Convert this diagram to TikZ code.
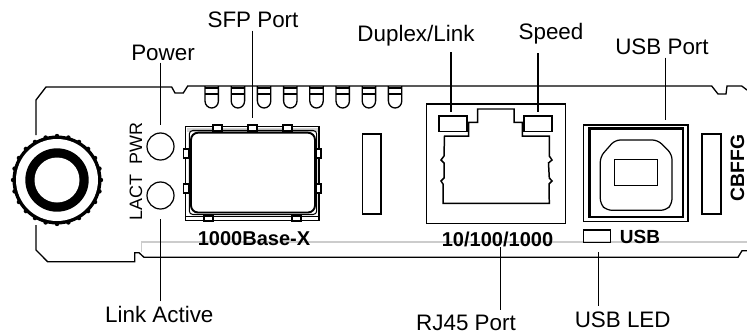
\documentclass[tikz,border=0pt]{standalone}
\usepackage{fontspec}
\setmainfont{Liberation Sans}
\begin{document}
\begin{tikzpicture}[x=0.02cm, y=-0.02cm,
    panel/.style={line width=0.75pt},
    leader/.style={line width=0.7pt},
    portbox/.style={draw, line width=0.7pt, inner sep=0pt, outer sep=0pt},
    callout/.style={anchor=base, inner sep=0pt, font=\fontsize{12.75}{14}\selectfont},
    silk/.style={inner sep=0pt, font=\fontsize{11.4}{13}\selectfont\bfseries}]
    \useasboundingbox (0,0) rectangle (747,335);

    % Panel outline
    \draw[panel] (36,135) -- (36,100) -- (46,87) -- (171.7,87) -- (175,93) -- (183.3,93) -- (187.7,86)
        -- (711.7,86) -- (718,94) -- (726,94) -- (727,86) -- (741.7,86) -- (747,90);
    \draw[panel] (36,225) -- (36,250) -- (47.6,261.7) -- (134.7,261.7) -- (134.7,252.7) -- (139,252.7)
        -- (144,257.3) -- (738,257.3) -- (742,250.7) -- (747,250.7);
    \draw[gray!40, line width=0.7pt] (141.7,252) -- (141.7,242) -- (747,242);

    % Latches along the top edge
    \foreach \x in {205,231.2,...,389} {
        \draw[panel] (\x,86) -- (\x,101) arc[start angle=180, end angle=0, x radius=6.7, y radius=7] -- (\x+13.4,86);
        \draw[line width=0.6pt] (\x,88) -- (\x+13.4,88) (\x,94) -- (\x+13.4,94);
    }

    % Thumb screw
    \foreach \a in {0,15,...,345} \fill (57,180) ++(\a:44) circle[radius=2.2];
    \fill (57,180) circle[radius=44.5];
    \fill[white] (57,180) circle[radius=41];
    \fill (57,180) circle[radius=31.7];
    \fill[white] (57,180) circle[radius=22.5];

    % LEDs on the left
    \node[portbox, circle, minimum size=5.4mm] (pwrled) at (160.5,146.5) {};
    \node[portbox, circle, minimum size=5.4mm] (lactled) at (160.5,195.5) {};
    \node[rotate=90, inner sep=0pt, font=\fontsize{10.2}{12}\selectfont] (pwrtext) at (136,143.7) {PWR};
    \node[rotate=90, inner sep=0pt, font=\fontsize{10.2}{12}\selectfont] (lacttext) at (136,197.5) {LACT};

    % SFP cage
    \fill[gray!35] (186.5,128) rectangle (318.5,132);
    \node[portbox, minimum width=26.66mm, minimum height=18.8mm] (sfpport) at (252.3,173.7) {};
    \draw[line width=0.6pt, rounded corners=2pt] (189.3,130.5) rectangle (316.7,214.5);
    \draw[line width=1.1pt, fill=white, rounded corners=4pt] (191,132.7) rectangle (315,212.5);
    \draw[line width=0.5pt] (186,216) -- (319,216);
    \foreach \x in {213,248,283} \draw[line width=0.6pt, fill=white] (\x,125) rectangle (\x+9,131);
    \foreach \x in {204,292} \draw[line width=0.6pt, fill=white] (\x,216) rectangle (\x+9,221);
    \foreach \y in {149,184} {
        \draw[line width=0.6pt, fill=white] (183.5,\y) rectangle (189,\y+9);
        \draw[line width=0.6pt, fill=white] (316,\y) rectangle (321,\y+9);
    }

    % Slots
    \node[portbox, minimum width=3.66mm, minimum height=16mm] (leftslot) at (371.8,174) {};
    \node[portbox, minimum width=3.8mm, minimum height=16mm] (rightslot) at (711.5,174) {};

    % RJ45 jack
    \node[portbox, minimum width=27.8mm, minimum height=23.94mm] (rjport) at (496.2,163.9) {};
    \node[portbox, minimum width=5.6mm, minimum height=3.14mm] (dupled) at (453,123.9) {};
    \node[portbox, minimum width=5.6mm, minimum height=3.14mm] (spdled) at (538,123.9) {};
    \draw[line width=0.85pt] (443,203.3) -- (443,184) -- (441,181) -- (444,178) -- (444,163) -- (441,160) -- (444,156)
        -- (444.5,136) -- (468.7,136) -- (468.7,122.3) -- (477.7,122.3) -- (477.7,109) -- (514,109)
        -- (514,122.3) -- (522.3,122.3) -- (522.3,136) -- (549.3,136) -- (549.3,156) -- (552,160) -- (548.5,163)
        -- (549.3,178) -- (552,181) -- (549,184) -- (549.3,203.3) -- cycle;

    % USB socket
    \node[portbox, minimum width=20.86mm, minimum height=19.26mm] (usbport) at (635.9,173.2) {};
    \draw[line width=1.5pt] (589.5,128.5) rectangle (683,217);
    \draw[line width=0.7pt, rounded corners=3pt] (600.3,156.7) -- (615,140) -- (657.7,140) -- (672,154.3)
        -- (672,204) -- (666,210.3) -- (606.7,210.3) -- (600.3,204) -- cycle;
    \node[portbox, minimum width=8.68mm, minimum height=5.12mm] (usbplug) at (636,172.5) {};
    \node[portbox, minimum width=5.4mm, minimum height=2.46mm] (usbled) at (597.2,236.2) {};

    % Printed on the panel
    \node[silk] (sfptext) at (254,239) {1000Base-X};
    \node[silk] (rjtext) at (497.5,239) {10/100/1000};
    \node[silk, font=\fontsize{10.8}{13}\selectfont\bfseries] (usbtext) at (640,236.5) {USB};
    \node[silk, rotate=90, font=\fontsize{11}{13}\selectfont\bfseries] (modeltext) at (737.5,168) {CBFFG};

    % Callouts
    \node[callout] (powerlabel) at (163,60.5) {Power};
    \node[callout] (sfplabel) at (253,27) {SFP Port};
    \node[callout] (duplexlabel) at (416,41) {Duplex/Link};
    \node[callout] (speedlabel) at (551,39) {Speed};
    \node[callout] (usblabel) at (662,54) {USB Port};
    \node[callout] (linklabel) at (159.3,322.5) {Link Active};
    \node[callout] (rjlabel) at (466,330.5) {RJ45 Port};
    \node[callout] (ledlabel) at (622.7,327.5) {USB LED};

    % Leaders, each stops short of what it points at
    \coordinate (duplextip) at ([xshift=-0.4mm]dupled.north);
    \coordinate (usbtip) at ([xshift=5.96mm]usbport.north);
    \coordinate (rjtip) at ([xshift=0.66mm]rjtext.south);
    \coordinate (ledtip) at ([xshift=0.26mm]usbled.south);
    \draw[leader, shorten <=0.3mm, shorten >=1.6mm] (powerlabel.south -| pwrled.north) -- (pwrled.north);
    \draw[leader, shorten <=0.6mm, shorten >=1.7mm] (sfplabel.south -| sfpport.north) -- (sfpport.north);
    \draw[leader, shorten <=1.2mm, shorten >=0.9mm] (duplexlabel.south -| duplextip) -- (duplextip);
    \draw[leader, shorten <=1.8mm, shorten >=0.9mm] (speedlabel.south -| spdled.north) -- (spdled.north);
    \draw[leader, shorten <=0.6mm, shorten >=1.1mm] (usblabel.south -| usbtip) -- (usbtip);
    \draw[leader, shorten <=0.9mm, shorten >=2mm] (linklabel.north -| lactled.south) -- (lactled.south);
    \draw[leader, shorten <=1mm] (rjlabel.north -| rjtip) -- (rjtip);
    \draw[leader, shorten <=1.2mm, shorten >=1.9mm] (ledlabel.north -| ledtip) -- (ledtip);
\end{tikzpicture}
\end{document}
